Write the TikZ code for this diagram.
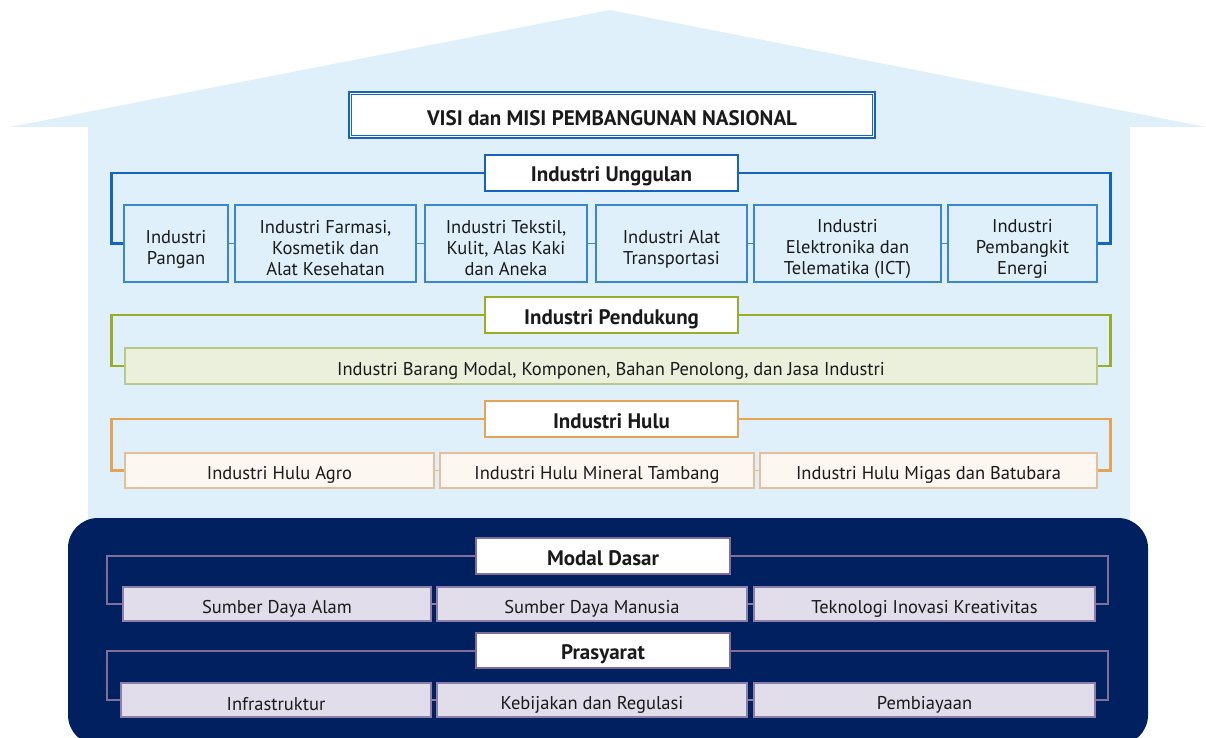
\documentclass[tikz,border=0pt]{standalone}
\usepackage{fontspec}
\setmainfont{PT Sans}
\definecolor{skybg}{HTML}{DFF0FB}
\definecolor{ublue}{HTML}{1565C0}
\definecolor{ubox}{HTML}{3A87D0}
\definecolor{pgreen}{HTML}{9AAD26}
\definecolor{pgfill}{HTML}{EAF0DC}
\definecolor{pgbox}{HTML}{B8C98A}
\definecolor{horange}{HTML}{E3A456}
\definecolor{hofill}{HTML}{FDF7F2}
\definecolor{hobox}{HTML}{E5BE9A}
\definecolor{navy}{HTML}{002060}
\definecolor{lilac}{HTML}{806D98}
\definecolor{lilfill}{HTML}{E1DDEA}
\definecolor{lilbox}{HTML}{8E7FA8}
\definecolor{ink}{HTML}{1A1A1A}
% tall strut opening a stacked label, so the lines sit a little below the box centre
\newcommand{\topstrut}{\rule{0pt}{24pt}}
\tikzset{
  txt/.style={font=\fontsize{18.5}{21}\selectfont, text=ink, align=center, inner sep=0pt,
    execute at begin node={\rule{0pt}{22pt}},
    execute at end node={\rule[-2pt]{0pt}{2pt}}},
  head/.style={font=\fontsize{21}{24}\selectfont\bfseries, text=ink, inner sep=0pt,
    fill=white, line width=2.4pt, text height=20pt, text depth=2pt},
  ubx/.style={txt, draw=ubox, line width=1.3pt, fill=skybg},
  pbx/.style={txt, draw=pgbox, line width=1.3pt, fill=pgfill},
  hbx/.style={txt, draw=hobox, line width=1.3pt, fill=hofill},
  mbx/.style={txt, draw=lilbox, line width=1.5pt, fill=lilfill},
  ulink/.style={draw=ublue, line width=2.6pt},
  plink/.style={draw=pgreen, line width=2.6pt},
  hlink/.style={draw=horange, line width=2.6pt},
  mlink/.style={draw=lilac, line width=2pt},
}
\begin{document}
\begin{tikzpicture}[x=1pt,y=-1pt]
\useasboundingbox (0,0) rectangle (1206,738);

% house: roof and walls
\fill[skybg] (10,127) -- (610,10) -- (1206,127) -- cycle;
\fill[skybg] (88,126) rectangle (1130,560);

% vision banner with double frame
\node[head, draw=ublue, text height=23pt, minimum width=526pt, minimum height=46pt] (visi) at (612,115)
      {VISI dan MISI PEMBANGUNAN NASIONAL};
\draw[ublue, line width=0.8pt] ([shift={(4pt,4pt)}]visi.south west) rectangle ([shift={(-4pt,-4pt)}]visi.north east);

% ---------- Industri Unggulan ----------
\node[head, draw=ublue, minimum width=253pt, minimum height=36pt] (ung) at (611.5,173) {Industri Unggulan};
\node[ubx, minimum width=104pt, minimum height=77pt] (u1) at (176,243.5) {\topstrut Industri\\Pangan};
\node[ubx, minimum width=181pt, minimum height=77pt] (u2) at (325.5,243.5) {\topstrut Industri Farmasi,\\Kosmetik dan\\Alat Kesehatan};
\node[ubx, minimum width=162pt, minimum height=77pt] (u3) at (506,243.5) {\topstrut Industri Tekstil,\\Kulit, Alas Kaki\\dan Aneka};
\node[ubx, minimum width=151pt, minimum height=77pt] (u4) at (671.5,243.5) {\topstrut Industri Alat\\Transportasi};
\node[ubx, minimum width=187pt, minimum height=77pt] (u5) at (847.5,243.5) {\topstrut Industri\\Elektronika dan\\Telematika (ICT)};
\node[ubx, minimum width=149pt, minimum height=77pt] (u6) at (1022.5,243.5) {\topstrut Industri\\Pembangkit\\Energi};
\draw[ulink] (ung.west) -| ([xshift=-12pt]u1.west) -- (u1.west);
\draw[ulink] (ung.east) -| ([xshift=13pt]u6.east) -- (u6.east);
\foreach \a/\b in {u1/u2,u2/u3,u3/u4,u4/u5,u5/u6}
  \draw[ubox, line width=1.3pt] (\a.east) -- (\b.west);

% ---------- Industri Pendukung ----------
\node[head, draw=pgreen, minimum width=253pt, minimum height=36pt] (pen) at (611.5,315) {Industri Pendukung};
\node[pbx, minimum width=972pt, minimum height=36pt] (p1) at (611,366) {Industri Barang Modal, Komponen, Bahan Penolong, dan Jasa Industri};
\draw[plink] (pen.west) -| ([xshift=-13pt]p1.west) -- (p1.west);
\draw[plink] (pen.east) -| ([xshift=13pt]p1.east) -- (p1.east);

% ---------- Industri Hulu ----------
\node[head, draw=horange, minimum width=253pt, minimum height=36pt] (hul) at (611.5,419) {Industri Hulu};
\node[hbx, minimum width=309pt, minimum height=35pt] (h1) at (279.5,470.5) {Industri Hulu Agro};
\node[hbx, minimum width=314pt, minimum height=35pt] (h2) at (597,470.5) {Industri Hulu Mineral Tambang};
\node[hbx, minimum width=337pt, minimum height=35pt] (h3) at (928.5,470.5) {Industri Hulu Migas dan Batubara};
\draw[hlink] (hul.west) -| ([xshift=-13pt]h1.west) -- (h1.west);
\draw[hlink] (hul.east) -| ([xshift=13pt]h3.east) -- (h3.east);
\foreach \a/\b in {h1/h2,h2/h3}
  \draw[hobox, line width=1.3pt] (\a.east) -- (\b.west);

% ---------- foundation ----------
\fill[navy, rounded corners=30pt] (68,518) rectangle (1148,745);

\node[head, draw=lilac, line width=2pt, minimum width=254pt, minimum height=36pt] (mod) at (603,556) {Modal Dasar};
\node[mbx, minimum width=308pt, minimum height=34pt] (m1) at (277,604) {Sumber Daya Alam};
\node[mbx, minimum width=310pt, minimum height=34pt] (m2) at (592,604) {Sumber Daya Manusia};
\node[mbx, minimum width=341pt, minimum height=34pt] (m3) at (924.5,604) {Teknologi Inovasi Kreativitas};
\draw[mlink] (mod.west) -| ([xshift=-15pt]m1.west) -- (m1.west);
\draw[mlink] (mod.east) -| ([xshift=12pt]m3.east) -- (m3.east);
\foreach \a/\b in {m1/m2,m2/m3}
  \draw[lilbox, line width=1.5pt] (\a.east) -- (\b.west);

\node[head, draw=lilac, line width=2pt, minimum width=254pt, minimum height=35pt] (pra) at (603,650.5) {Prasyarat};
\node[mbx, minimum width=310pt, minimum height=34pt] (r1) at (276,700) {Infrastruktur};
\node[mbx, minimum width=310pt, minimum height=34pt] (r2) at (592,700) {Kebijakan dan Regulasi};
\node[mbx, minimum width=341pt, minimum height=34pt] (r3) at (924.5,700) {Pembiayaan};
\draw[mlink] (pra.west) -| ([xshift=-13pt]r1.west) -- (r1.west);
\draw[mlink] (pra.east) -| ([xshift=12pt]r3.east) -- (r3.east);
\foreach \a/\b in {r1/r2,r2/r3}
  \draw[lilbox, line width=1.5pt] (\a.east) -- (\b.west);
\end{tikzpicture}
\end{document}
